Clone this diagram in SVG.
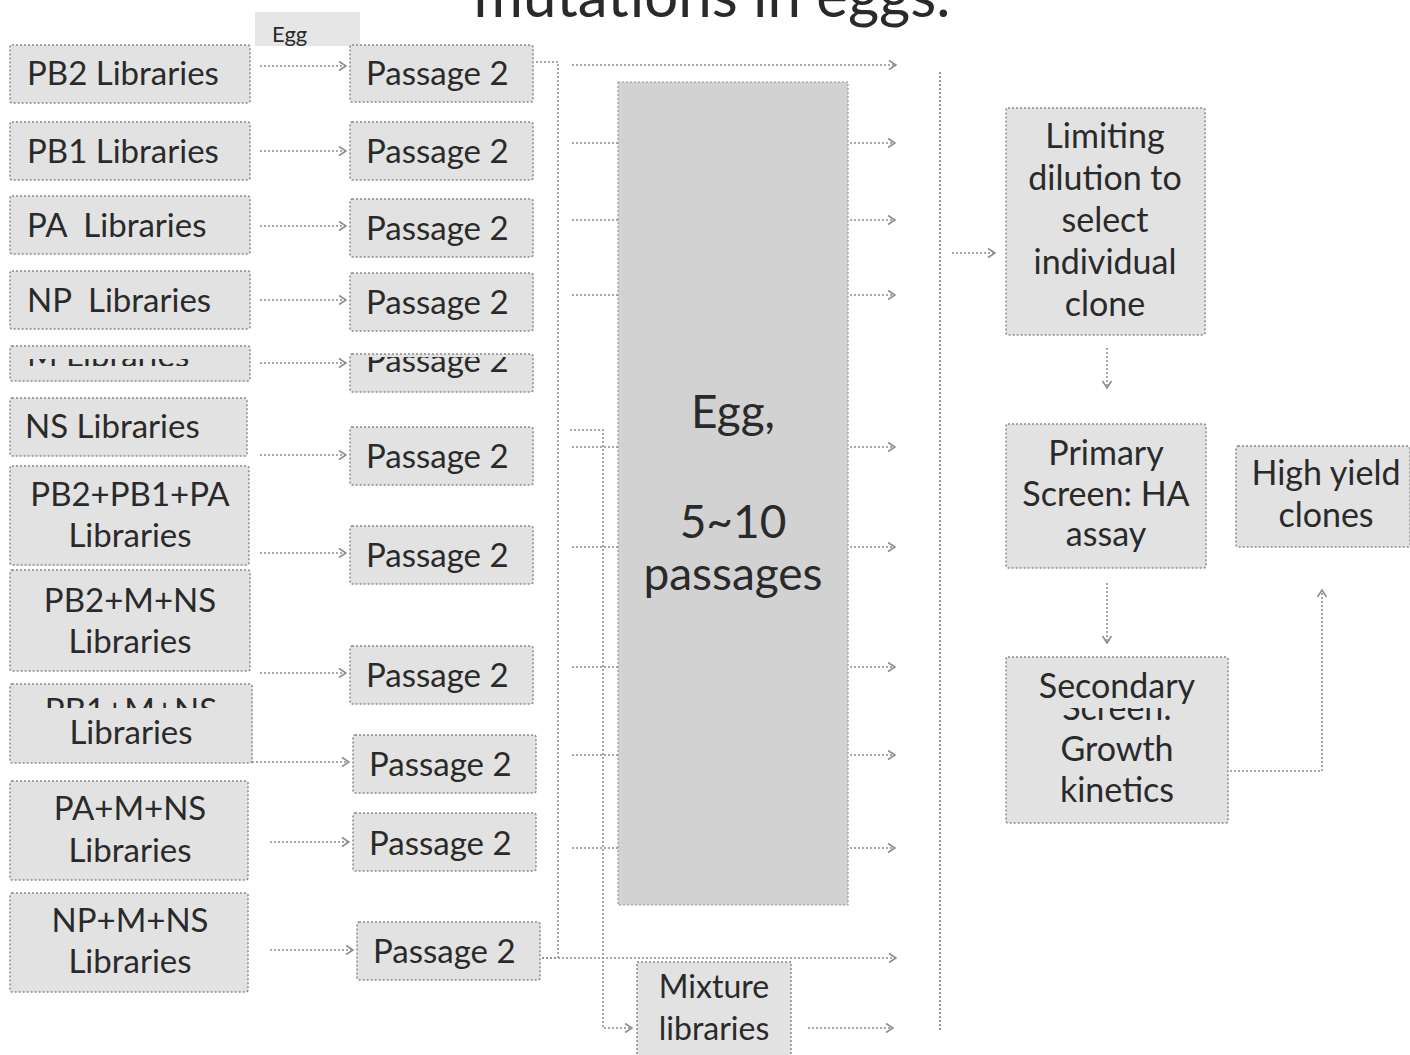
<svg xmlns="http://www.w3.org/2000/svg" width="1410" height="1055" viewBox="0 0 1410 1055">
<style>
.box{fill:#e2e2e2;stroke:#8a8a8a;stroke-width:1.5;stroke-dasharray:2 2}
.lbl{fill:#e6e6e6;stroke:none}
.big{fill:#d2d2d2;stroke:#9a9a9a;stroke-width:1.2;stroke-dasharray:2 2}
.t{font-family:Lato,"Open Sans",sans-serif;font-size:33px;fill:#2a2a2a;white-space:pre}
.r{font-size:34px}
.c{text-anchor:middle}
.con{fill:none;stroke:#8c8c8c;stroke-width:1.5;stroke-dasharray:2 2}
.div{fill:none;stroke:#777;stroke-width:1.5;stroke-dasharray:2 2}
</style>
<defs>
<marker id="ah" markerUnits="userSpaceOnUse" markerWidth="12" markerHeight="12" refX="9" refY="6" orient="auto">
<path d="M2,1.5 L9,6 L2,10.5" fill="none" stroke="#8c8c8c" stroke-width="1.5"/>
</marker>
<clipPath id="clipM"><rect x="10" y="359" width="240" height="7"/></clipPath>
<clipPath id="clipP5"><rect x="350" y="357" width="183" height="35"/></clipPath>
<clipPath id="clipL9"><rect x="10" y="684" width="242" height="24"/></clipPath>
<clipPath id="clipS"><rect x="1006" y="708" width="222" height="13"/></clipPath>
</defs>
<rect width="1410" height="1055" fill="#ffffff"/>

<text class="t c" x="712" y="17" style="font-size:60px">mutations in eggs.</text>

<g id="egg-label"><rect class="lbl" x="255" y="12" width="105" height="34"/><text class="t" x="272" y="42" style="font-size:22px">Egg</text></g>

<g id="lib-pb2"><rect class="box" x="10" y="45" width="240" height="58" rx="2"/><text class="t" x="27" y="85">PB2 Libraries</text></g>
<g id="lib-pb1"><rect class="box" x="10" y="122" width="240" height="58" rx="2"/><text class="t" x="27" y="163">PB1 Libraries</text></g>
<g id="lib-pa"><rect class="box" x="10" y="196" width="240" height="58" rx="2"/><text class="t" x="27" y="237">PA  Libraries</text></g>
<g id="lib-np"><rect class="box" x="10" y="271" width="240" height="58" rx="2"/><text class="t" x="27" y="312">NP  Libraries</text></g>
<g id="lib-m"><rect class="box" x="10" y="346" width="240" height="35" rx="2"/><text class="t" x="27" y="367" clip-path="url(#clipM)">M Libraries</text></g>
<g id="lib-ns"><rect class="box" x="10" y="398" width="237" height="58" rx="2"/><text class="t" x="25" y="438">NS Libraries</text></g>
<g id="lib-pb2pb1pa"><rect class="box" x="10" y="466" width="239" height="99" rx="2"/><text class="t c" x="130" y="506">PB2+PB1+PA</text><text class="t c" x="130" y="547">Libraries</text></g>
<g id="lib-pb2mns"><rect class="box" x="10" y="570" width="240" height="101" rx="2"/><text class="t c" x="130" y="612">PB2+M+NS</text><text class="t c" x="130" y="653">Libraries</text></g>
<g id="lib-pb1mns"><rect class="box" x="10" y="684" width="242" height="79" rx="2"/><text class="t c" x="131" y="722" clip-path="url(#clipL9)">PB1+M+NS</text><text class="t c" x="131" y="744">Libraries</text></g>
<g id="lib-pamns"><rect class="box" x="10" y="781" width="238" height="99" rx="2"/><text class="t c" x="130" y="820">PA+M+NS</text><text class="t c" x="130" y="862">Libraries</text></g>
<g id="lib-npmns"><rect class="box" x="10" y="893" width="238" height="99" rx="2"/><text class="t c" x="130" y="932">NP+M+NS</text><text class="t c" x="130" y="973">Libraries</text></g>

<g id="pass-1"><rect class="box" x="350" y="45" width="183" height="57" rx="2"/><text class="t" x="366" y="85">Passage 2</text></g>
<g id="pass-2"><rect class="box" x="350" y="122" width="183" height="58" rx="2"/><text class="t" x="366" y="163">Passage 2</text></g>
<g id="pass-3"><rect class="box" x="350" y="199" width="183" height="58" rx="2"/><text class="t" x="366" y="240">Passage 2</text></g>
<g id="pass-4"><rect class="box" x="350" y="273" width="183" height="58" rx="2"/><text class="t" x="366" y="314">Passage 2</text></g>
<g id="pass-5"><rect class="box" x="350" y="354" width="183" height="38" rx="2"/><text class="t" x="366" y="372" clip-path="url(#clipP5)">Passage 2</text></g>
<g id="pass-6"><rect class="box" x="350" y="427" width="183" height="58" rx="2"/><text class="t" x="366" y="468">Passage 2</text></g>
<g id="pass-7"><rect class="box" x="350" y="526" width="183" height="58" rx="2"/><text class="t" x="366" y="567">Passage 2</text></g>
<g id="pass-8"><rect class="box" x="350" y="646" width="183" height="58" rx="2"/><text class="t" x="366" y="687">Passage 2</text></g>
<g id="pass-9"><rect class="box" x="353" y="735" width="183" height="58" rx="2"/><text class="t" x="369" y="776">Passage 2</text></g>
<g id="pass-10"><rect class="box" x="353" y="813" width="183" height="58" rx="2"/><text class="t" x="369" y="855">Passage 2</text></g>
<g id="pass-11"><rect class="box" x="357" y="922" width="183" height="58" rx="2"/><text class="t" x="373" y="963">Passage 2</text></g>

<g id="egg-passages"><rect class="big" x="618" y="82" width="230" height="823"/><text class="t c" x="733" y="428" style="font-size:46px">Egg,</text><text class="t c" x="733" y="538" style="font-size:46px">5~10</text><text class="t c" x="733" y="590" style="font-size:46px">passages</text></g>

<g id="mixture"><rect class="box" x="637" y="962" width="154" height="100"/><text class="t c" x="714" y="998" style="font-size:32px">Mixture</text><text class="t c" x="714" y="1040" style="font-size:32px">libraries</text></g>

<g id="limiting"><rect class="box" x="1006" y="108" width="199" height="227" rx="2"/>
<text class="t r c" x="1105" y="148">Limiting</text><text class="t r c" x="1105" y="190">dilution to</text><text class="t r c" x="1105" y="232">select</text><text class="t r c" x="1105" y="274">individual</text><text class="t r c" x="1105" y="316">clone</text></g>

<g id="primary"><rect class="box" x="1006" y="424" width="200" height="144" rx="2"/>
<text class="t r c" x="1106" y="465">Primary</text><text class="t r c" x="1106" y="506">Screen: HA</text><text class="t r c" x="1106" y="546">assay</text></g>

<g id="secondary"><rect class="box" x="1006" y="657" width="222" height="166" rx="2"/>
<text class="t r c" x="1117" y="698">Secondary</text><text class="t r c" x="1117" y="720" clip-path="url(#clipS)">Screen:</text><text class="t r c" x="1117" y="761">Growth</text><text class="t r c" x="1117" y="802">kinetics</text></g>

<g id="high-yield"><rect class="box" x="1236" y="446" width="174" height="101" rx="2"/>
<text class="t r c" x="1326" y="485">High yield</text><text class="t r c" x="1326" y="527">clones</text></g>

<g id="connectors">
<path class="con" d="M260,66 H346" marker-end="url(#ah)"/>
<path class="con" d="M260,151 H346" marker-end="url(#ah)"/>
<path class="con" d="M260,226 H346" marker-end="url(#ah)"/>
<path class="con" d="M260,300 H346" marker-end="url(#ah)"/>
<path class="con" d="M260,363 H346" marker-end="url(#ah)"/>
<path class="con" d="M260,455 H346" marker-end="url(#ah)"/>
<path class="con" d="M260,553 H346" marker-end="url(#ah)"/>
<path class="con" d="M260,673 H346" marker-end="url(#ah)"/>
<path class="con" d="M252,762 H349" marker-end="url(#ah)"/>
<path class="con" d="M270,842 H349" marker-end="url(#ah)"/>
<path class="con" d="M270,950 H353" marker-end="url(#ah)"/>

<path class="con" d="M536,62 H558 V958 H542"/>
<path class="con" d="M572,65 H896" marker-end="url(#ah)"/>
<path class="con" d="M542,958 H896" marker-end="url(#ah)"/>

<path class="con" d="M572,143 H618 M572,220 H618 M572,295 H618 M572,447 H618 M572,547 H618 M572,667 H618 M572,755 H618 M572,848 H618"/>
<path class="con" d="M850,143 H895" marker-end="url(#ah)"/>
<path class="con" d="M850,220 H895" marker-end="url(#ah)"/>
<path class="con" d="M850,295 H895" marker-end="url(#ah)"/>
<path class="con" d="M850,447 H895" marker-end="url(#ah)"/>
<path class="con" d="M850,547 H895" marker-end="url(#ah)"/>
<path class="con" d="M850,667 H895" marker-end="url(#ah)"/>
<path class="con" d="M850,755 H895" marker-end="url(#ah)"/>
<path class="con" d="M850,848 H895" marker-end="url(#ah)"/>

<path class="con" d="M570,430 H603 V1028 H632" marker-end="url(#ah)"/>
<path class="con" d="M808,1028 H893" marker-end="url(#ah)"/>

<path class="div" d="M940,72 V1030"/>
<path class="con" d="M952,253 H995" marker-end="url(#ah)"/>
<path class="con" d="M1107,348 V388" marker-end="url(#ah)"/>
<path class="con" d="M1107,583 V643" marker-end="url(#ah)"/>
<path class="con" d="M1230,771 H1322 V590" marker-end="url(#ah)"/>
</g>
</svg>
